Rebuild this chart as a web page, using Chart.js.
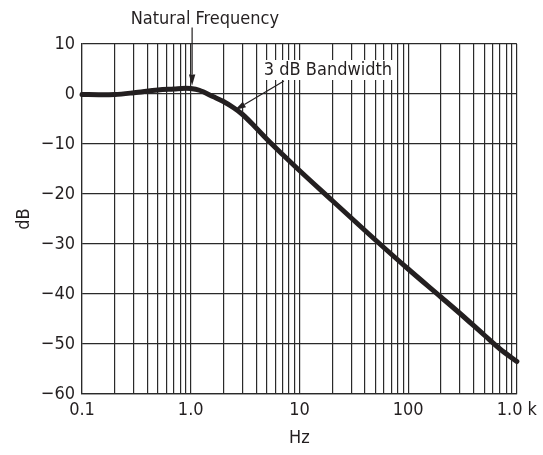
<!DOCTYPE html>
<html><head><meta charset="utf-8">
<script src="https://cdn.jsdelivr.net/npm/chart.js@4.4.0/dist/chart.umd.min.js"></script>
<style>html,body{margin:0;padding:0;background:#fff}#wrap{width:543px;height:455px}</style>
</head><body><div id="wrap"><canvas id="c" width="543" height="455"></canvas></div>
<script>
// ---- data ----
const frequenciesHz = [0.1, 0.15, 0.2, 0.3, 0.5, 0.7, 0.9, 1.0, 1.2, 1.6, 2.0, 2.5, 3.0, 4.0, 5.0, 7.0, 10, 20, 30, 50, 100, 200, 300, 500, 700, 1000];
const responseDb   = [-0.1, -0.15, -0.1, 0.25, 0.8, 1.0, 1.15, 1.1, 0.75, -0.5, -1.5, -2.8, -4.1, -6.8, -9.0, -12.1, -15.3, -21.3, -24.8, -29.2, -35.0, -40.6, -43.9, -48.2, -51.0, -53.5];
const xGridTicks   = [0.1,0.2,0.3,0.4,0.5,0.6,0.7,0.8,0.9,1,2,3,4,5,6,7,8,9,10,20,30,40,50,60,70,80,90,100,200,300,400,500,600,700,800,900,1000];
const xMajorTicks  = [0.1, 1, 10, 100, 1000];
const xTickLabels  = ['0.1', '1.0', '10', '100', '1.0 k'];
const yTickValues  = [-60, -50, -40, -30, -20, -10, 0, 10];
const xAxisTitle = 'Hz';
const yAxisTitle = 'dB';
// annotations: [text, textFreq, textDb, arrowFromFreq, arrowFromDb, arrowToFreq, arrowToDb]
const noteNatural   = ['Natural Frequency', 1.35, 15.0, 1.03, 13.3, 1.03, 1.7];
const noteBandwidth = ['3 dB Bandwidth', 18.3, 4.8, 7.2, 2.6, 2.55, -3.2];

const FONT = '"Liberation Sans Narrow", "DejaVu Sans Condensed", "Liberation Sans", sans-serif';
const FS = 18;
const INK = '#231f20';

const notesPlugin = {
  id: 'notes',
  afterDatasetsDraw(chart) {
    const {ctx, scales: {x, y}} = chart;
    ctx.save();
    ctx.font = FS + 'px ' + FONT;
    ctx.textAlign = 'center';
    ctx.textBaseline = 'middle';
    const arrow = (x1, y1, x2, y2) => {
      ctx.strokeStyle = INK; ctx.fillStyle = INK; ctx.lineWidth = 1.2;
      const a = Math.atan2(y2 - y1, x2 - x1), L = 11, W = 3.2;
      const bx = x2 - L * Math.cos(a), by = y2 - L * Math.sin(a);
      ctx.beginPath(); ctx.moveTo(x1, y1); ctx.lineTo(bx, by); ctx.stroke();
      ctx.beginPath(); ctx.moveTo(x2, y2);
      ctx.lineTo(bx + W * Math.sin(a), by - W * Math.cos(a));
      ctx.lineTo(bx - W * Math.sin(a), by + W * Math.cos(a));
      ctx.closePath(); ctx.fill();
    };
    [[noteNatural, false], [noteBandwidth, true]].forEach(([n, box]) => {
      const tx = x.getPixelForValue(n[1]), ty = y.getPixelForValue(n[2]);
      if (box) {
        const w = ctx.measureText(n[0]).width;
        ctx.fillStyle = '#fff';
        ctx.fillRect(tx - w / 2 - 3, ty - 10, w + 6, 20);
      }
      ctx.fillStyle = INK;
      ctx.fillText(n[0], tx, ty);
      arrow(x.getPixelForValue(n[3]), y.getPixelForValue(n[4]), x.getPixelForValue(n[5]), y.getPixelForValue(n[6]));
    });
    ctx.restore();
  }
};

new Chart(document.getElementById('c'), {
  type: 'line',
  data: {
    datasets: [{
      data: frequenciesHz.map((f, i) => ({x: f, y: responseDb[i]})),
      borderColor: INK,
      borderWidth: 5,
      pointRadius: 0,
      borderCapStyle: 'round',
      borderJoinStyle: 'round',
      cubicInterpolationMode: 'monotone',
      fill: false,
      clip: false
    }]
  },
  options: {
    responsive: false,
    animation: false,
    devicePixelRatio: 1,
    layout: {padding: {top: 44, right: 26, bottom: 0, left: 0}},
    plugins: {legend: {display: false}, tooltip: {enabled: false}},
    scales: {
      x: {
        type: 'logarithmic',
        min: 0.1, max: 1000,
        afterBuildTicks: s => { s.ticks = xGridTicks.map(v => ({value: v})); },
        afterFit: s => { s.height = 61; },
        grid: {color: '#2a2a2a', lineWidth: 1.2, drawTicks: false},
        border: {color: '#2a2a2a', width: 1.2},
        ticks: {
          autoSkip: false, maxRotation: 0, minRotation: 0, padding: 6,
          color: INK, font: {family: FONT, size: FS},
          callback: v => { const i = xMajorTicks.indexOf(v); return i >= 0 ? xTickLabels[i] : ''; }
        },
        title: {display: true, text: xAxisTitle, color: INK, font: {family: FONT, size: FS, lineHeight: 1}, padding: {top: 0, bottom: 8}}
      },
      y: {
        min: -60, max: 10,
        afterBuildTicks: s => { s.ticks = yTickValues.map(v => ({value: v})); },
        afterFit: s => { s.width = 82; },
        grid: {color: '#2a2a2a', lineWidth: 1.2, drawTicks: false},
        border: {color: '#2a2a2a', width: 1.2},
        ticks: {
          padding: 7, color: INK, font: {family: FONT, size: FS},
          callback: v => v < 0 ? '\u2212' + Math.abs(v) : String(v)
        },
        title: {display: true, text: yAxisTitle, color: INK, font: {family: FONT, size: FS, lineHeight: 1}, padding: {top: 15, bottom: 0}}
      }
    }
  },
  plugins: [notesPlugin]
});
</script></body></html>
